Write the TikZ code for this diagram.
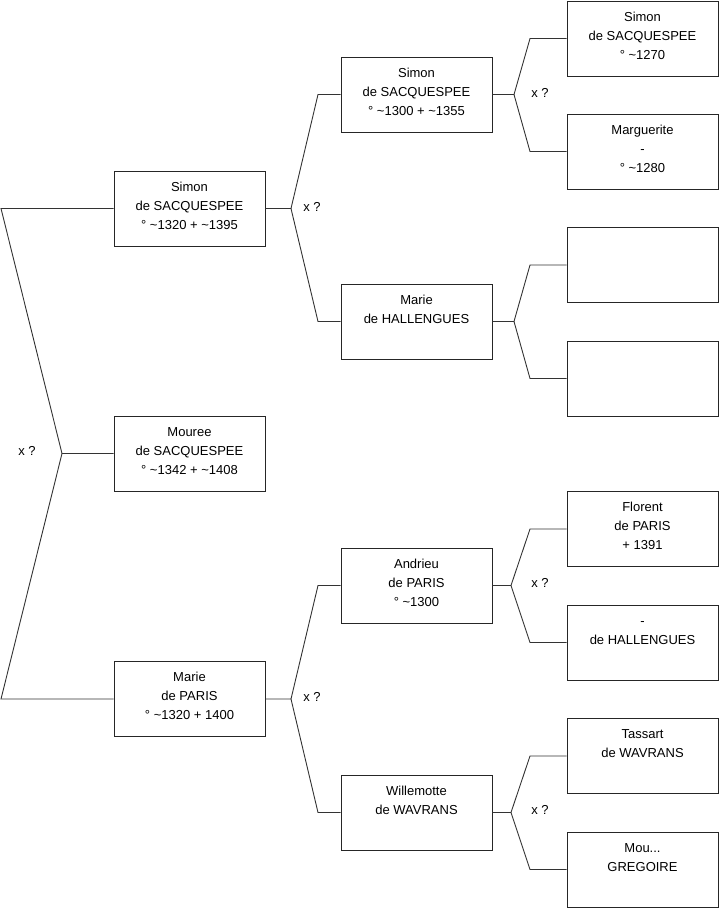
\documentclass[tikz,border=0pt]{standalone}
\usepackage{fontspec}
\setmainfont{Liberation Sans}
\newcommand\famnode[3]{%
  \node[person] (#1) at (#2) {};
  \node[txt] (#1t) at ([yshift=-10.5pt]#1.north) {\rule{0pt}{10pt}#3};}
\begin{document}
\begin{tikzpicture}[x=1pt,y=-1pt,
  person/.style={draw=black!85, line width=0.9pt, minimum width=151pt, minimum height=75pt,
    inner sep=0pt},
  txt/.style={inner sep=0pt, anchor=north, align=center, font=\fontsize{13}{19}\selectfont},
  link/.style={draw=black!80, line width=0.9pt},
  lbl/.style={font=\fontsize{13}{15}\selectfont, inner sep=0pt}]
\useasboundingbox (0,0) rectangle (719,908);
% level 1
\famnode{A}{189.5,208.5}{Simon\\de SACQUESPEE\\° \textasciitilde1320 + \textasciitilde1395}
\famnode{B}{189.5,453.5}{Mouree\\de SACQUESPEE\\° \textasciitilde1342 + \textasciitilde1408}
\famnode{C}{189.5,699}{Marie\\de PARIS\\° \textasciitilde1320 + 1400}
% level 2
\famnode{D}{416.5,94.5}{Simon\\de SACQUESPEE\\° \textasciitilde1300 + \textasciitilde1355}
\famnode{E}{416.5,321.5}{Marie\\de HALLENGUES}
\famnode{F}{416.5,585.5}{Andrieu\\de PARIS\\° \textasciitilde1300}
\famnode{G}{416.5,812.5}{Willemotte\\de WAVRANS}
% level 3
\famnode{H1}{642.5,38.5}{Simon\\de SACQUESPEE\\° \textasciitilde1270}
\famnode{H2}{642.5,151.5}{Marguerite\\-\\° \textasciitilde1280}
\node[person] (H3) at (642.5,265) {};
\node[person] (H4) at (642.5,378.5) {};
\famnode{H5}{642.5,529}{Florent\\de PARIS\\+ 1391}
\famnode{H6}{642.5,642.5}{-\\de HALLENGUES}
\famnode{H7}{642.5,756}{Tassart\\de WAVRANS}
\famnode{H8}{642.5,869.5}{Mou...\\GREGOIRE}
% root fork
\coordinate (r0) at (62,453.5);
\coordinate (rA) at (1,208.5);
\coordinate (rC) at (1,699);
\draw[link] (A.west) -- (rA) -- (r0) -- (B.west);
\draw[link] (r0) -- (rC) -- (C.west);
\node[lbl] (xr) at (27,451) {x ?};
% A fork
\coordinate (a0) at (291,208.5);
\draw[link] (A.east) -- (a0) -- (318,94.5) -- (D.west);
\draw[link] (a0) -- (318,321.5) -- (E.west);
\node[lbl] (xa) at (312,207) {x ?};
% C fork
\coordinate (c0) at (291,699);
\draw[link] (C.east) -- (c0) -- (318,585.5) -- (F.west);
\draw[link] (c0) -- (318,812.5) -- (G.west);
\node[lbl] (xc) at (312,697) {x ?};
% D fork
\coordinate (d0) at (514,94.5);
\draw[link] (D.east) -- (d0) -- (530,38.5) -- (H1.west);
\draw[link] (d0) -- (530,151.5) -- (H2.west);
\node[lbl] (xd) at (540,93) {x ?};
% E fork
\coordinate (e0) at (514,321.5);
\draw[link] (E.east) -- (e0) -- (530,265) -- (H3.west);
\draw[link] (e0) -- (530,378.5) -- (H4.west);
% F fork
\coordinate (f0) at (511,585.5);
\draw[link] (F.east) -- (f0) -- (530,529) -- (H5.west);
\draw[link] (f0) -- (530,642.5) -- (H6.west);
\node[lbl] (xf) at (540,583) {x ?};
% G fork
\coordinate (g0) at (511,812.5);
\draw[link] (G.east) -- (g0) -- (530,756) -- (H7.west);
\draw[link] (g0) -- (530,869.5) -- (H8.west);
\node[lbl] (xg) at (540,810) {x ?};
\end{tikzpicture}
\end{document}
